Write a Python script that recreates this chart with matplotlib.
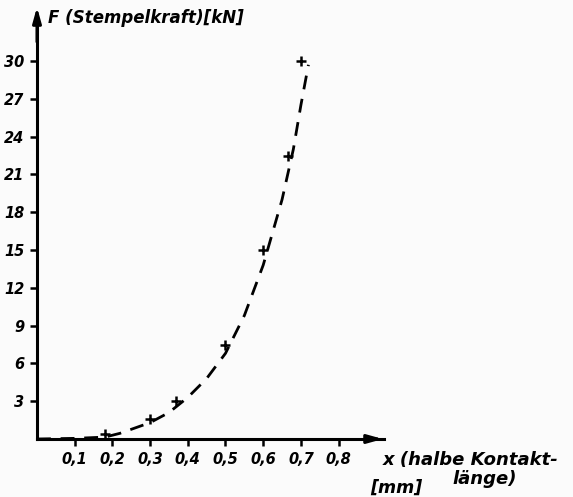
import matplotlib
matplotlib.use("Agg")
import matplotlib.pyplot as plt

# measured points (x in mm, F in kN)
pts_x = [0.18, 0.30, 0.37, 0.50, 0.60, 0.665, 0.70]
pts_F = [0.4, 1.6, 3.0, 7.5, 15.0, 22.5, 30.0]

# dashed fit curve
curve_x = [0.0, 0.10, 0.18, 0.22, 0.30, 0.35, 0.40, 0.45, 0.50, 0.55, 0.60, 0.65, 0.68, 0.70, 0.72]
curve_F = [0.0, 0.05, 0.15, 0.45, 1.3, 2.1, 3.3, 4.8, 6.8, 9.8, 13.8, 19.0, 23.0, 26.5, 29.7]

x_ticks = [0.1, 0.2, 0.3, 0.4, 0.5, 0.6, 0.7, 0.8]
x_labels = ["0,1", "0,2", "0,3", "0,4", "0,5", "0,6", "0,7", "0,8"]
y_ticks = [3, 6, 9, 12, 15, 18, 21, 24, 27, 30]

W, H = 573, 497
fig = plt.figure(figsize=(W / 100, H / 100), dpi=100)
fig.patch.set_facecolor("#fbfbfb")

px_per_x = 377.0   # pixels per 1 mm
px_per_F = 12.6    # pixels per kN
x0, y0 = 37, 439   # pixel of origin (from top-left)
xmax, Fmax = 0.92, 33.3
ax = fig.add_axes([x0 / W, (H - y0) / H, xmax * px_per_x / W, Fmax * px_per_F / H])
ax.set_facecolor("none")
ax.set_xlim(0, xmax)
ax.set_ylim(0, Fmax)

for s in ["top", "right"]:
    ax.spines[s].set_visible(False)
for s in ["left", "bottom"]:
    ax.spines[s].set_linewidth(2.2)
    ax.spines[s].set_color("black")

font = dict(family="DejaVu Sans", style="italic", weight="bold")

ax.set_xticks(x_ticks)
ax.set_xticklabels(x_labels, fontsize=10.5, **font)
ax.set_yticks(y_ticks)
ax.set_yticklabels([str(v) for v in y_ticks], fontsize=10.5, **font)
ax.tick_params(axis="both", direction="out", length=5, width=1.8, color="black", pad=4)

# arrows on axes
ax.annotate("", xy=(xmax + 0.005, 0), xytext=(xmax - 0.05, 0),
            arrowprops=dict(arrowstyle="-|>,head_length=0.9,head_width=0.25", color="black", lw=2.2),
            annotation_clip=False)
ax.annotate("", xy=(0, Fmax + 1.2), xytext=(0, Fmax - 2),
            arrowprops=dict(arrowstyle="-|>,head_length=0.9,head_width=0.25", color="black", lw=2.2),
            annotation_clip=False)

ax.plot(curve_x, curve_F, color="black", lw=2.0, dashes=(5, 3.5))
ax.plot(pts_x, pts_F, linestyle="none", marker="+", markersize=7, mew=1.8, color="black")

fig.text(48 / W, 1 - 18 / H, "F (Stempelkraft)[kN]", fontsize=12, ha="left", va="center", **font)
fig.text(383 / W, 1 - 460 / H, "x (halbe Kontakt-", fontsize=13, ha="left", va="center", **font)
fig.text(452 / W, 1 - 479 / H, "länge)", fontsize=13, ha="left", va="center", **font)
fig.text(370 / W, 1 - 488 / H, "[mm]", fontsize=12.5, ha="left", va="center", **font)

fig.savefig("out.png", dpi=100, facecolor=fig.get_facecolor())
